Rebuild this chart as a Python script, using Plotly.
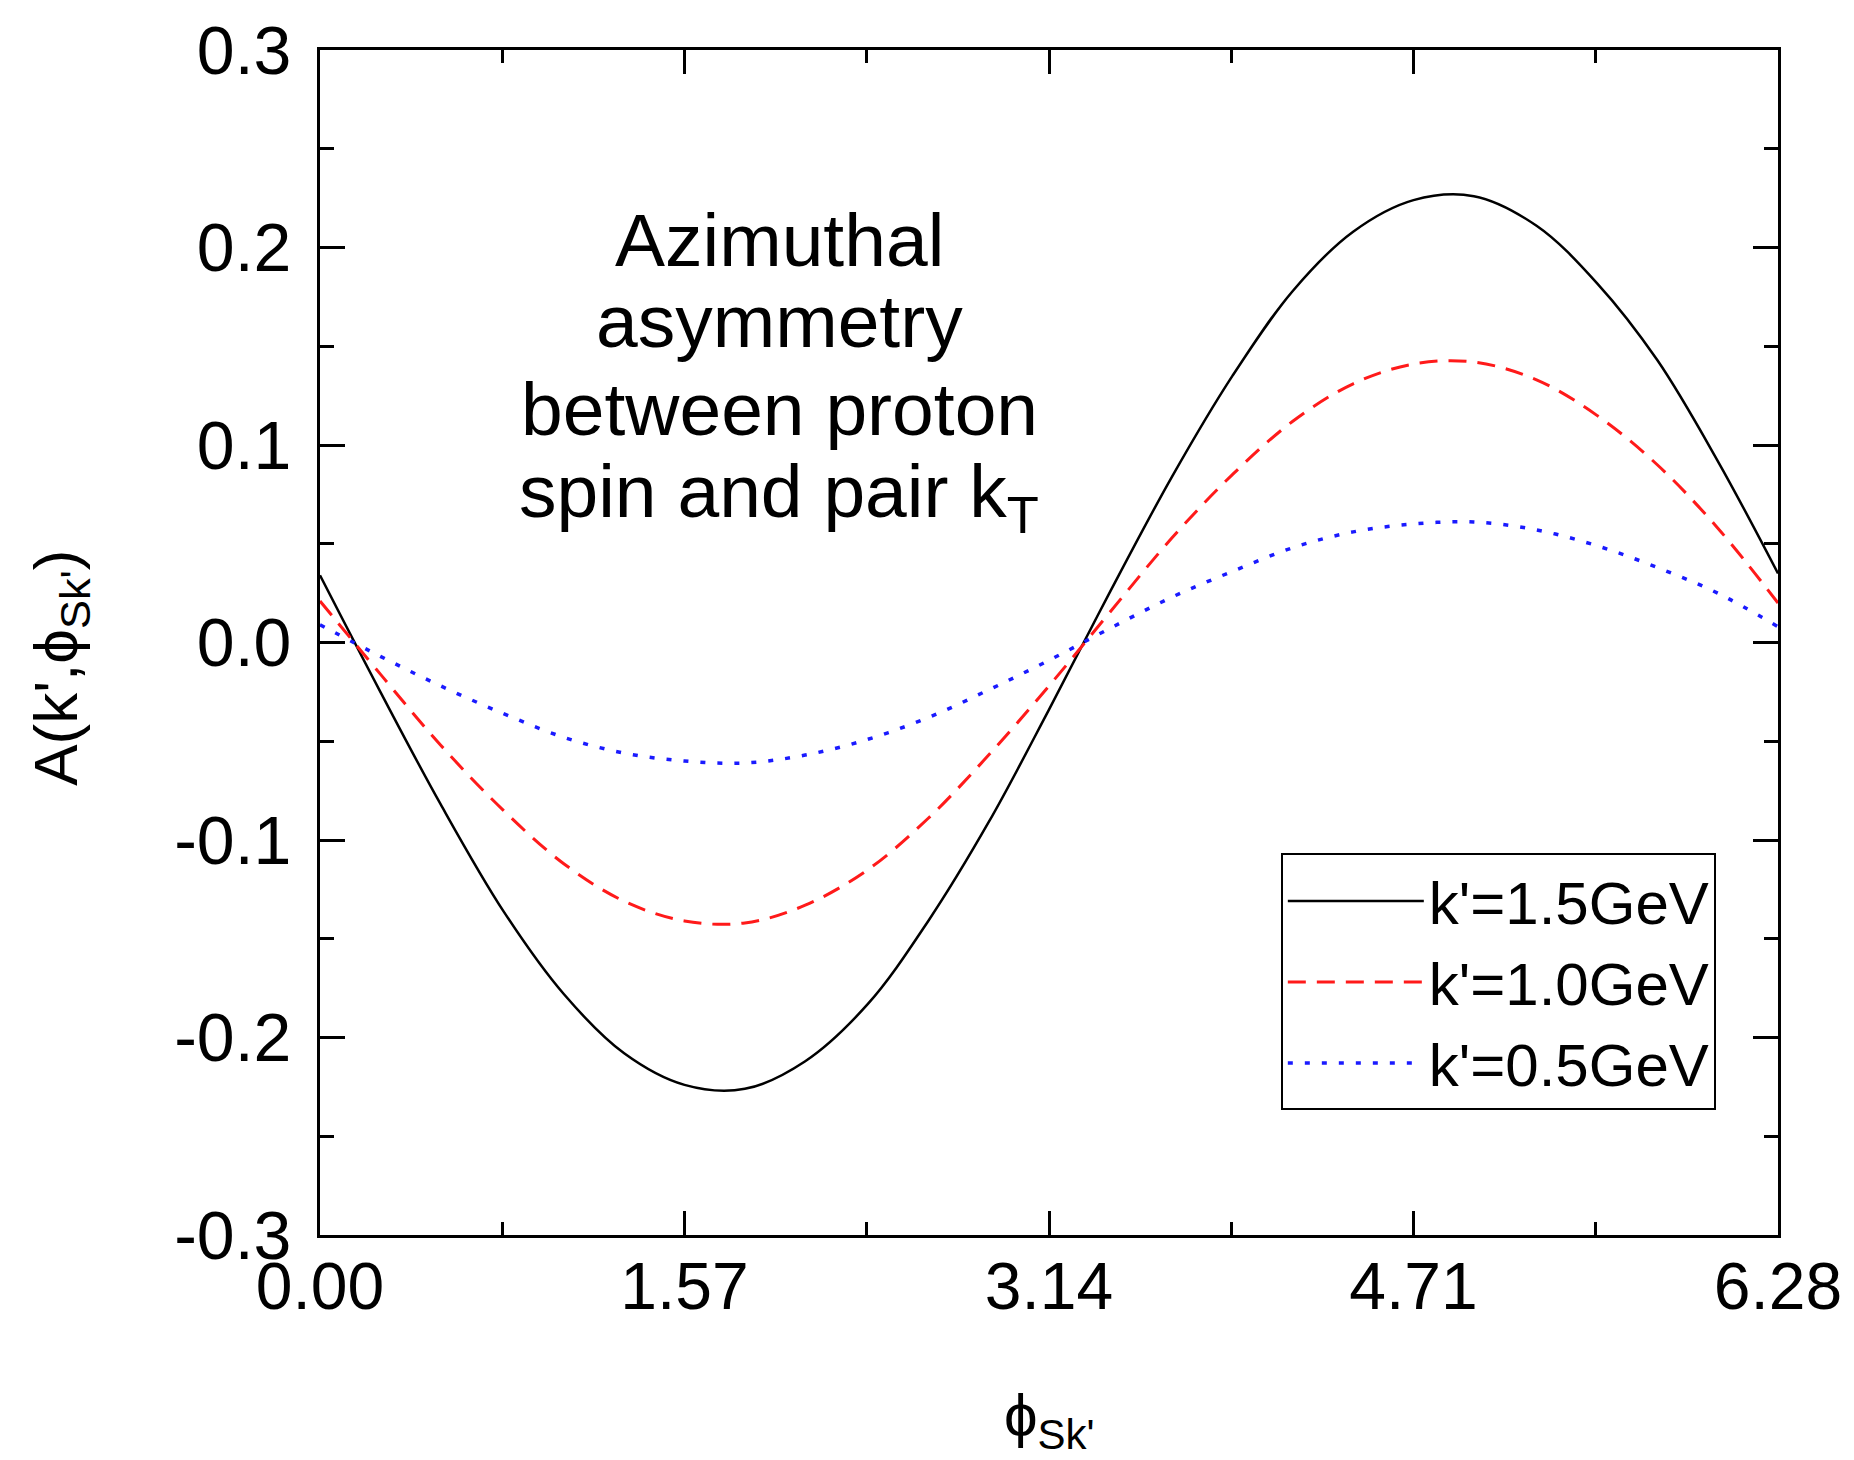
import plotly.graph_objects as go

# phi_Sk' sample positions
phi = [0.00, 0.26, 0.52, 0.79, 1.05, 1.31, 1.57, 1.83, 2.09, 2.36, 2.62, 2.88, 3.14,
       3.40, 3.67, 3.93, 4.19, 4.45, 4.71, 4.97, 5.24, 5.50, 5.76, 6.02, 6.28]

# k'=1.5 GeV (black, solid)
a_15 = [0.034, -0.025, -0.082, -0.136, -0.178, -0.208, -0.224, -0.226, -0.212, -0.183,
        -0.141, -0.091, -0.034, 0.025, 0.084, 0.135, 0.178, 0.208, 0.224, 0.226,
        0.211, 0.182, 0.143, 0.092, 0.035]
# k'=1.0 GeV (red, dashed)
a_10 = [0.021, -0.016, -0.052, -0.085, -0.112, -0.131, -0.141, -0.142, -0.133, -0.115,
        -0.089, -0.057, -0.022, 0.015, 0.053, 0.085, 0.112, 0.131, 0.141, 0.142,
        0.133, 0.115, 0.090, 0.058, 0.020]
# k'=0.5 GeV (blue, dotted)
a_05 = [0.009, -0.007, -0.022, -0.036, -0.048, -0.056, -0.060, -0.061, -0.057, -0.049,
        -0.038, -0.024, -0.009, 0.007, 0.023, 0.036, 0.048, 0.056, 0.060, 0.061,
        0.057, 0.049, 0.038, 0.025, 0.008]

series_names = ["k'=1.5GeV", "k'=1.0GeV", "k'=0.5GeV"]

x_tickvals = [0.0, 1.57, 3.14, 4.71, 6.28]
x_ticktext = ["0.00", "1.57", "3.14", "4.71", "6.28"]
x_minorvals = [0.785, 2.355, 3.925, 5.495]
y_tickvals = [-0.3, -0.2, -0.1, 0.0, 0.1, 0.2, 0.3]
y_ticktext = ["-0.3", "-0.2", "-0.1", "0.0", "0.1", "0.2", "0.3"]

note_lines = ["Azimuthal", "asymmetry", "between proton", "spin and pair k<sub>T</sub>"]

FONT = "Liberation Sans, Arial, sans-serif"

fig = go.Figure()
fig.add_trace(go.Scatter(x=phi, y=a_15, mode="lines", name=series_names[0],
                         line=dict(color="black", width=2.5, shape="spline", smoothing=1.0)))
fig.add_trace(go.Scatter(x=phi, y=a_10, mode="lines", name=series_names[1],
                         line=dict(color="#ff1a1a", width=3, dash="18px,11px", shape="spline", smoothing=1.0)))
fig.add_trace(go.Scatter(x=phi, y=a_05, mode="lines", name=series_names[2],
                         line=dict(color="#1a1aff", width=3.5, dash="5px,12px", shape="spline", smoothing=1.0)))

axis_common = dict(showline=True, linecolor="black", linewidth=3, mirror="ticks",
                   ticks="inside", tickcolor="black", tickwidth=3,
                   showgrid=False, zeroline=False)

fig.update_xaxes(range=[0, 6.28], tickmode="array", tickvals=x_tickvals, ticktext=x_ticktext,
                 ticklen=24, ticklabelstandoff=-8,
                 tickfont=dict(family=FONT, size=66, color="black"),
                 minor=dict(tickmode="array", tickvals=x_minorvals, ticks="inside",
                            ticklen=13, tickwidth=3, tickcolor="black"),
                 **axis_common)
fig.update_yaxes(range=[-0.3, 0.3], tickmode="array", tickvals=y_tickvals, ticktext=y_ticktext,
                 ticklen=25, ticklabelstandoff=12,
                 tickfont=dict(family=FONT, size=68, color="black"),
                 minor=dict(dtick=0.05, tick0=0, ticks="inside",
                            ticklen=14, tickwidth=3, tickcolor="black"),
                 **axis_common)

note_y = [0.840, 0.7715, 0.697, 0.623]
for txt, yy in zip(note_lines, note_y):
    fig.add_annotation(text=txt, xref="paper", yref="paper", x=0.315, y=yy,
                       xanchor="center", yanchor="middle", showarrow=False,
                       font=dict(family=FONT, size=75, color="black"))

fig.add_annotation(text="A(k',ϕ<sub>Sk'</sub>)", xref="paper", yref="paper",
                   x=-0.178, y=0.479, textangle=-90, xanchor="center", yanchor="middle",
                   showarrow=False, font=dict(family=FONT, size=62, color="black"))
fig.add_annotation(text="ϕ<sub>Sk'</sub>", xref="paper", yref="paper",
                   x=0.5, y=-0.156, xanchor="center", yanchor="middle",
                   showarrow=False, font=dict(family=FONT, size=60, color="black"))

fig.update_layout(
    width=1854, height=1460,
    margin=dict(l=320, r=69, t=43, b=225),
    paper_bgcolor="white", plot_bgcolor="white",
    showlegend=True,
    legend=dict(x=0.659, y=0.322, xanchor="left", yanchor="top",
                bgcolor="white", bordercolor="black", borderwidth=2,
                font=dict(family=FONT, size=60, color="black"),
                itemwidth=136, tracegroupgap=0),
)

fig.write_html("out.html")
